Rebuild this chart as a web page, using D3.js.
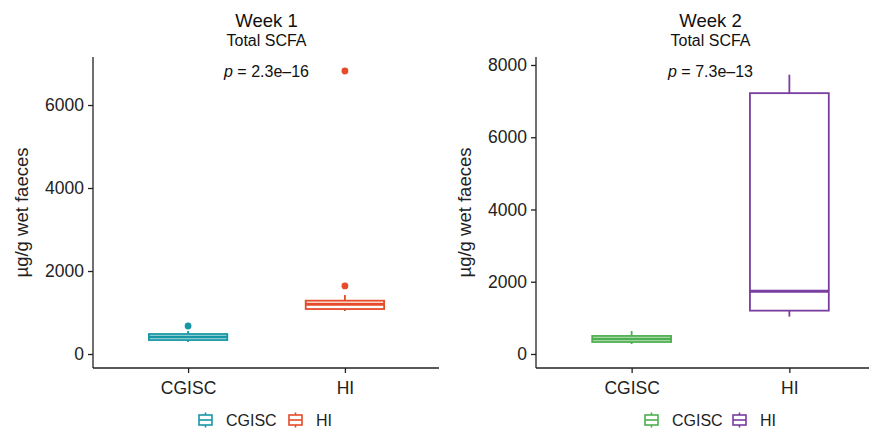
<!DOCTYPE html>
<html>
<head>
<meta charset="utf-8">
<script src="https://cdn.jsdelivr.net/npm/d3@7/dist/d3.min.js"></script>
<style>
  html, body { margin: 0; padding: 0; background: #fff; }
  svg { display: block; font-family: "Liberation Sans", Arial, sans-serif; }
</style>
</head>
<body>
<svg id="chart" width="869" height="429"></svg>
<script>
// ---- Data ----
const categories = ["CGISC", "HI"];
// box stats: [lower whisker, Q1, median, Q3, upper whisker]
const week1CGISC = [290, 337, 410, 482, 555];
const week1HI    = [1036, 1084, 1198, 1285, 1420];
const week1OutliersCGISC = [675];
const week1OutliersHI    = [1640, 6820];
const week2CGISC = [277, 332, 415, 499, 637];
const week2HI    = [1033, 1200, 1737, 7220, 7730];
const week2OutliersCGISC = [];
const week2OutliersHI    = [];
const yTicksWeek1 = [0, 2000, 4000, 6000];
const yTicksWeek2 = [0, 2000, 4000, 6000, 8000];
const titles = ["Week 1", "Week 2"];
const subtitle = "Total SCFA";
const pValues = ["2.3e\u201316", "7.3e\u201313"];
const yLabel = "\u00b5g/g wet faeces";

const svg = d3.select("#chart");

const panels = [
  {
    title: titles[0], p: pValues[0],
    stats: [week1CGISC, week1HI], outliers: [week1OutliersCGISC, week1OutliersHI],
    ticks: yTicksWeek1, domain: [-337, 7157],
    xRange: [94, 439], colors: ["#1797A6", "#E64B2A"],
    yLabelX: 23, legendX: [199, 289]
  },
  {
    title: titles[1], p: pValues[1],
    stats: [week2CGISC, week2HI], outliers: [week2OutliersCGISC, week2OutliersHI],
    ticks: yTicksWeek2, domain: [-388, 8221],
    xRange: [537, 884], colors: ["#4DAF4F", "#7A3DA0"],
    yLabelX: 466, legendX: [645, 733]
  }
];

const plotTop = 57, plotBottom = 368;

panels.forEach(cfg => {
  const g = svg.append("g");
  const x = d3.scalePoint().domain(categories).range(cfg.xRange).padding(0.6);
  const y = d3.scaleLinear().domain(cfg.domain).range([plotBottom, plotTop]);
  const boxW = x.step() * 0.5;
  const cx = (cfg.xRange[0] + cfg.xRange[1]) / 2;

  // axes
  const yAxis = g.append("g").attr("transform", `translate(${cfg.xRange[0] - 1},0)`)
    .call(d3.axisLeft(y).tickValues(cfg.ticks).tickSize(5).tickPadding(4).tickFormat(d3.format("d")));
  const xAxis = g.append("g").attr("transform", `translate(0,${plotBottom})`)
    .call(d3.axisBottom(x).tickSize(5).tickPadding(5));
  [yAxis, xAxis].forEach(a => {
    a.select(".domain").attr("stroke", "#222").attr("stroke-width", 1.3);
    a.selectAll(".tick line").attr("stroke", "#222").attr("stroke-width", 1.3);
    a.selectAll(".tick text").attr("fill", "#222").style("font-size", "17.5px")
      .style("font-family", "'Liberation Sans', Arial, sans-serif");
  });
  yAxis.select(".domain").attr("d", `M-0,${plotTop}V${plotBottom}`);
  xAxis.select(".domain").attr("d", `M${cfg.xRange[0] - 1},0H${cfg.xRange[1]}`);
  xAxis.selectAll(".tick text").attr("dy", "0.9em");

  // y label
  g.append("text")
    .attr("transform", `translate(${cfg.yLabelX},${(plotTop + plotBottom) / 2}) rotate(-90)`)
    .attr("text-anchor", "middle").attr("dominant-baseline", "middle")
    .style("font-size", "18.5px").attr("fill", "#222").text(yLabel);

  // titles
  g.append("text").attr("x", cx).attr("y", 27).attr("text-anchor", "middle")
    .style("font-size", "18.5px").attr("fill", "#111").text(cfg.title);
  g.append("text").attr("x", cx).attr("y", 46).attr("text-anchor", "middle")
    .style("font-size", "16px").attr("fill", "#111").text(subtitle);

  // p-value
  const pt = g.append("text").attr("x", cx).attr("y", 77).attr("text-anchor", "middle")
    .style("font-size", "16px").attr("fill", "#111");
  pt.append("tspan").style("font-style", "italic").text("p");
  pt.append("tspan").text(" = " + cfg.p);

  // boxes
  categories.forEach((cat, i) => {
    const s = cfg.stats[i];
    const col = cfg.colors[i];
    const xc = x(cat);
    const bg = g.append("g");
    bg.append("line").attr("x1", xc).attr("x2", xc).attr("y1", y(s[0])).attr("y2", y(s[1]))
      .attr("stroke", col).attr("stroke-width", 1.8);
    bg.append("line").attr("x1", xc).attr("x2", xc).attr("y1", y(s[3])).attr("y2", y(s[4]))
      .attr("stroke", col).attr("stroke-width", 1.8);
    bg.append("rect").attr("x", xc - boxW / 2).attr("width", boxW)
      .attr("y", y(s[3])).attr("height", y(s[1]) - y(s[3]))
      .attr("fill", "#fff").attr("stroke", col).attr("stroke-width", 1.8);
    bg.append("line").attr("x1", xc - boxW / 2).attr("x2", xc + boxW / 2)
      .attr("y1", y(s[2])).attr("y2", y(s[2]))
      .attr("stroke", col).attr("stroke-width", 3);
    bg.selectAll("circle").data(cfg.outliers[i]).join("circle")
      .attr("cx", xc).attr("cy", d => y(d)).attr("r", 3.4).attr("fill", col);
  });

  // legend
  const ly = 420;
  categories.forEach((cat, i) => {
    const col = cfg.colors[i];
    const lx = cfg.legendX[i];
    const kc = lx + 6.5;
    const lg = g.append("g");
    lg.append("line").attr("x1", kc).attr("x2", kc).attr("y1", ly - 7.5).attr("y2", ly + 7.5)
      .attr("stroke", col).attr("stroke-width", 1.6);
    lg.append("rect").attr("x", lx).attr("y", ly - 5).attr("width", 13).attr("height", 10)
      .attr("fill", "#fff").attr("stroke", col).attr("stroke-width", 1.6);
    lg.append("line").attr("x1", lx).attr("x2", lx + 13).attr("y1", ly).attr("y2", ly)
      .attr("stroke", col).attr("stroke-width", 1.6);
    lg.append("text").attr("x", lx + 27).attr("y", ly).attr("dominant-baseline", "central")
      .style("font-size", "16px").attr("fill", "#222").text(cat);
  });
});
</script>
</body>
</html>
